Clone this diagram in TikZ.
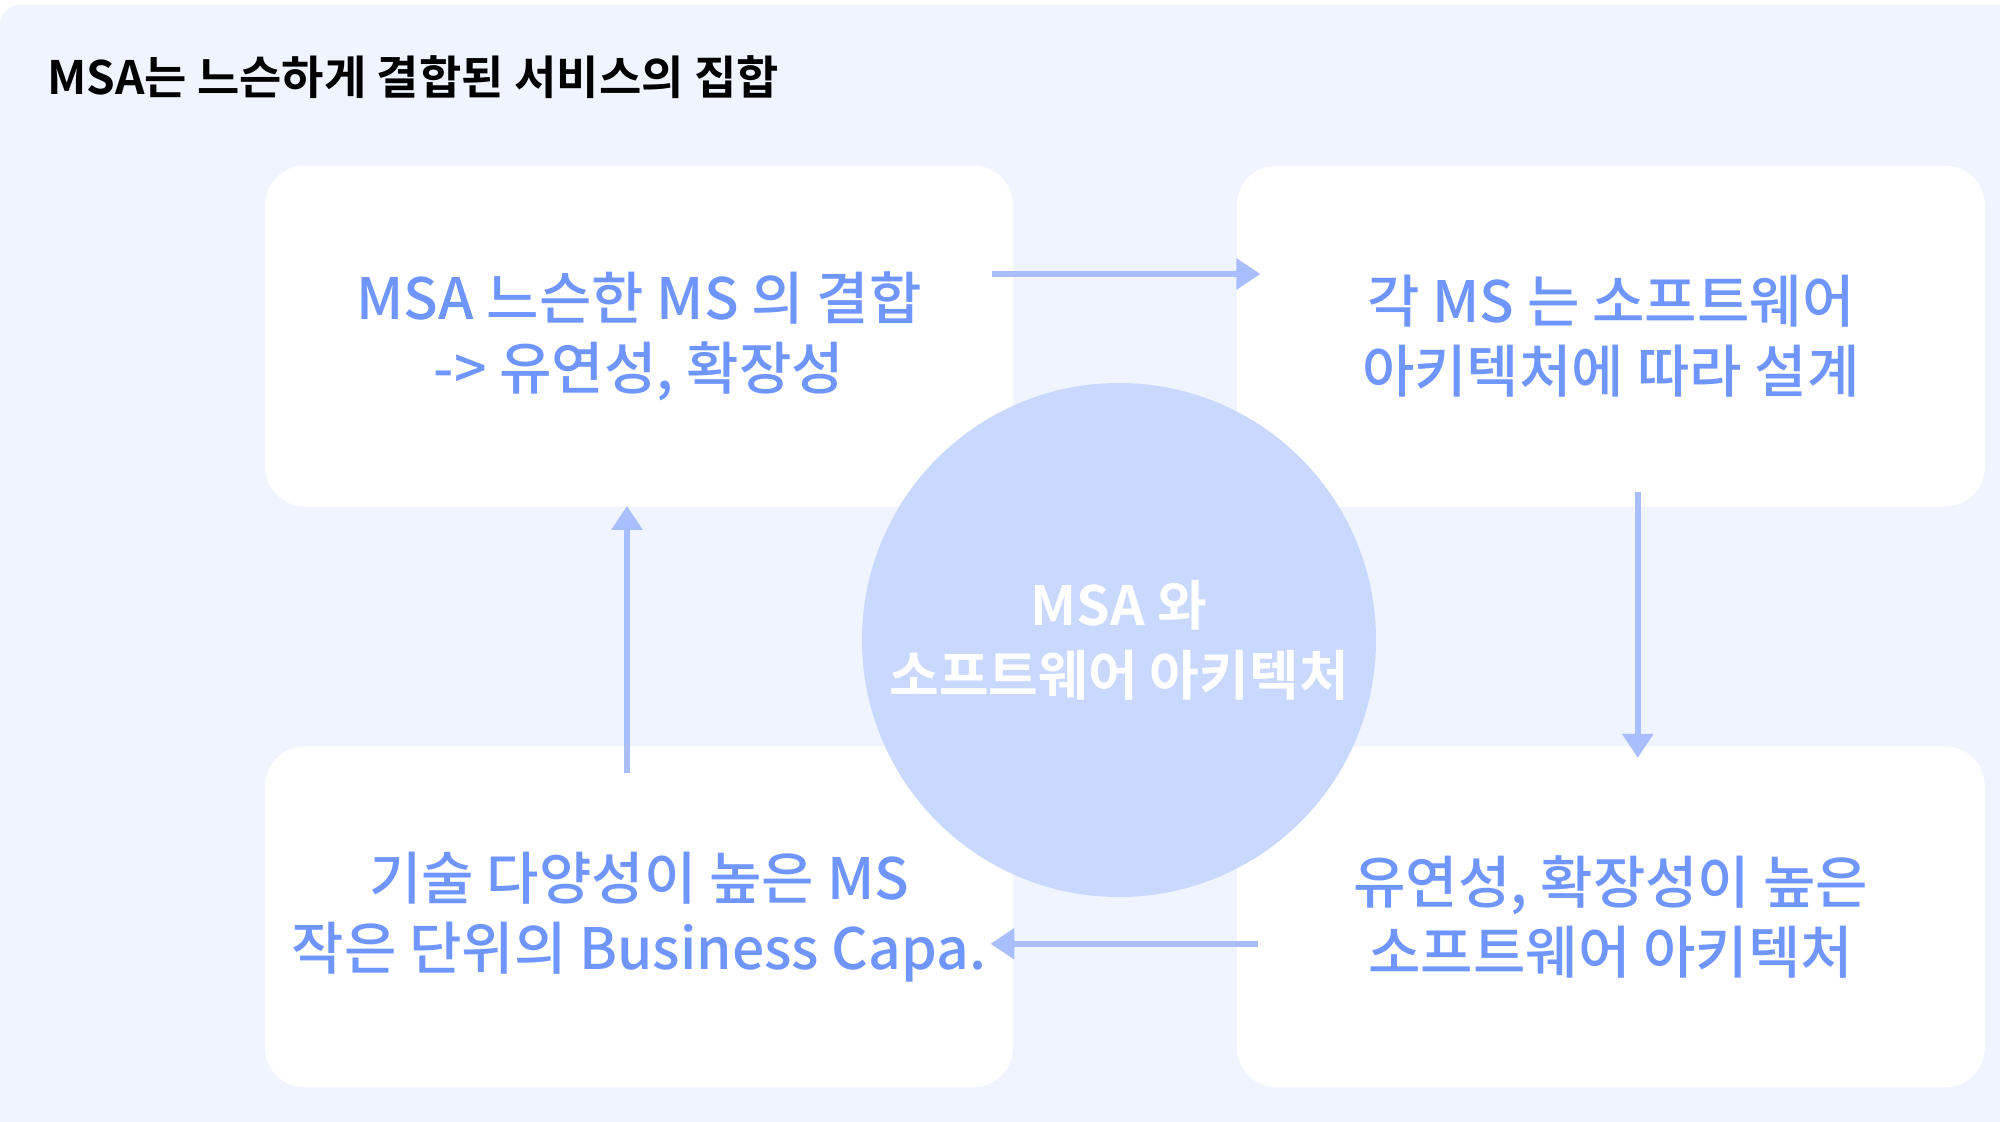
\documentclass[tikz,border=0pt]{standalone}
\usepackage{fontspec}
\setmainfont{Noto Sans CJK KR}[BoldFont={Noto Sans CJK KR Bold}]
\newfontfamily\cardfont{Noto Sans CJK KR Medium}
\usepackage{tikz}
\usetikzlibrary{positioning,arrows.meta}
\definecolor{panelbg}{RGB}{239,244,255}
\definecolor{boxtext}{RGB}{111,149,255}
\definecolor{corefill}{RGB}{201,216,254}
\definecolor{flowline}{RGB}{169,190,255}
\begin{document}
\begin{tikzpicture}[
x=0.5pt, y=-0.5pt,
card/.style={fill=white, rectangle, rounded corners=20pt, minimum width=374pt, minimum height=170.5pt, inner sep=0pt, align=center, text=boxtext, font=\cardfont\fontsize{28.5pt}{35pt}\selectfont},
core/.style={fill=corefill, circle, minimum size=257pt, inner sep=0pt, align=center, text=white, font=\bfseries\fontsize{27pt}{35pt}\selectfont},
flow/.style={draw=flowline, line width=3pt, -{Triangle[length=12pt,width=15pt]}},
]
\useasboundingbox (0,0) rectangle (2000,1121);
\fill[white] (0,0) rectangle (2000,1121);
\fill[panelbg, rounded corners=10pt] (0,5) rectangle (2040,1160);

\node[anchor=west, font=\bfseries\fontsize{23pt}{28pt}\selectfont] (title) at (40,77) {MSA는 느슨하게 결합된 서비스의 집합};

% four steps round the centre
\node[card] (loose) at (639,336) {MSA 느슨한 MS 의 결합\\-> 유연성, 확장성};
\node[card, right=111.5pt of loose] (design) {각 MS 는 소프트웨어\\아키텍처에 따라 설계};
\node[card, below=119.5pt of loose] (diverse) {기술 다양성이 높은 MS\\작은 단위의 Business Capa.};
\node[card, right=111.5pt of diverse] (flexible) {유연성, 확장성이 높은\\소프트웨어 아키텍처};

% centre circle
\node[core] (centre) at (1119,640) {MSA 와\\소프트웨어 아키텍처};

\draw[flow] ([xshift=-10.5pt,yshift=31pt]loose.east) -- ([xshift=12pt,yshift=31pt]design.west);
\draw[flow] ([xshift=13.5pt,yshift=7.5pt]design.south) -- ([xshift=13.5pt,yshift=-6pt]flexible.north);
\draw[flow] ([xshift=11pt,yshift=-13.5pt]flexible.west) -- ([xshift=-11.5pt,yshift=-13.5pt]diverse.east);
\draw[flow] ([xshift=-6pt,yshift=-13.5pt]diverse.north) -- ([xshift=-6pt,yshift=0.5pt]loose.south);
\end{tikzpicture}
\end{document}
